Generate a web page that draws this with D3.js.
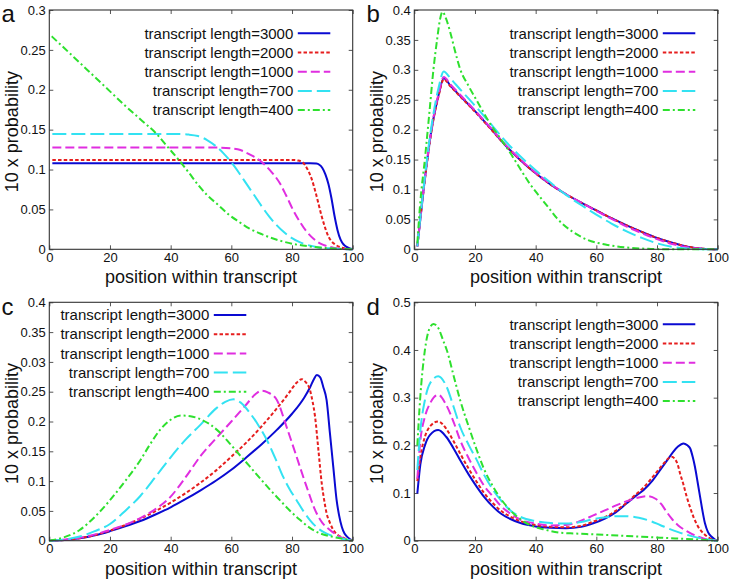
<!DOCTYPE html>
<html><head><meta charset="utf-8">
<script src="https://cdn.jsdelivr.net/npm/d3@7/dist/d3.min.js"></script>
<style>
body{margin:0;background:#fff}
svg{display:block}
text{font-family:"Liberation Sans",Arial,Helvetica,sans-serif;fill:#111}
</style>
</head><body>
<svg id="chart" width="730" height="581"></svg>
<script>
// ---------- data ----------
const panelIds = ["a", "b", "c", "d"];
const lengths = ["3000", "2000", "1000", "700", "400"];
const xTicks = [0, 20, 40, 60, 80, 100];
const yTicksA = [0, 0.05, 0.1, 0.15, 0.2, 0.25, 0.3];
const yLabelsA = ["0", "0.05", "0.1", "0.15", "0.2", "0.25", "0.3"];
const yTicksB = [0, 0.05, 0.1, 0.15, 0.2, 0.25, 0.3, 0.35, 0.4];
const yLabelsB = ["0", "0.05", "0.1", "0.15", "0.2", "0.25", "0.3", "0.35", "0.4"];
const yTicksC = [0, 0.05, 0.1, 0.15, 0.2, 0.25, 0.3, 0.35, 0.4];
const yLabelsC = ["0", "0.05", "0.1", "0.15", "0.2", "0.25", "0.03", "0.35", "0.4"];
const yTicksD = [0, 0.1, 0.2, 0.3, 0.4, 0.5];
const yLabelsD = ["0", "0.1", "0.2", "0.3", "0.4", "0.5"];
const xTitle = "position within transcript";
const yTitle = "10 x probability";

// panel a
const A3000 = [[1,0.108],[20,0.108],[40,0.108],[60,0.108],[80,0.108],[86,0.108],[88,0.1075],[89,0.106],[90,0.102],[91,0.094],[92,0.082],[93,0.064],[94,0.042],[95,0.024],[96,0.012],[97,0.006],[98,0.003],[99,0.001],[100,0]];
const A2000 = [[1,0.112],[20,0.112],[40,0.112],[60,0.112],[80,0.112],[82,0.1113],[83.5,0.109],[85,0.101],[86.5,0.088],[88,0.068],[89.8,0.041],[91,0.026],[92,0.016],[93,0.01],[94.2,0.006],[96,0.0025],[98,0.0008],[100,0]];
const A1000 = [[1,0.1275],[20,0.1275],[40,0.1275],[55,0.1275],[60,0.1265],[63,0.1245],[65,0.121],[67,0.117],[69,0.1125],[71,0.106],[73,0.098],[76,0.0827],[78,0.068],[80.4,0.049],[82.5,0.035],[84.8,0.0222],[87,0.0135],[89.2,0.0075],[91.5,0.004],[93.6,0.002],[97,0.0005],[100,0]];
const A700 = [[1,0.1445],[20,0.1445],[42,0.1445],[46,0.1438],[49,0.142],[52,0.137],[55,0.129],[57.5,0.12],[60,0.109],[62.5,0.096],[65,0.082],[67.5,0.068],[70,0.054],[72.5,0.041],[75,0.03],[77.5,0.021],[80,0.014],[82.5,0.009],[85,0.0055],[88,0.003],[92,0.0012],[96,0.0003],[100,0]];
const A400 = [[0.8,0.267],[5,0.252],[10,0.234],[15,0.216],[20,0.198],[25,0.18],[30,0.163],[35.4,0.1445],[39.2,0.1275],[43.1,0.11],[46,0.096],[49,0.081],[52,0.068],[55.7,0.0555],[59,0.044],[62.3,0.035],[66,0.026],[70,0.019],[75,0.012],[80,0.007],[85,0.004],[90,0.002],[95,0.0007],[100,0]];

// panel b
const B3000 = [[1,0.005],[3,0.097],[6,0.21],[8,0.258],[9.7,0.286],[12,0.273],[15,0.257],[20,0.231],[25,0.203],[30,0.174],[35,0.149],[40,0.127],[45,0.108],[50,0.092],[55,0.078],[60,0.065],[65,0.052],[70,0.04],[75,0.029],[80,0.019],[85,0.011],[90,0.0045],[95,0.001],[100,0]];
const B2000 = [[1,0.005],[3,0.096],[6,0.208],[8,0.256],[9.7,0.284],[12,0.272],[15,0.256],[20,0.23],[25,0.202],[30,0.174],[35,0.149],[40,0.127],[45,0.108],[50,0.092],[55,0.078],[60,0.065],[65,0.052],[70,0.04],[75,0.029],[80,0.019],[85,0.011],[90,0.0045],[95,0.001],[100,0]];
const B1000 = [[1,0.005],[3,0.098],[6,0.212],[8,0.26],[9.7,0.288],[12,0.275],[15,0.259],[20,0.232],[25,0.204],[30,0.175],[35,0.15],[40,0.128],[45,0.109],[50,0.092],[55,0.078],[60,0.064],[65,0.051],[70,0.038],[75,0.027],[80,0.017],[85,0.009],[90,0.0035],[95,0.0008],[100,0]];
const B700 = [[1,0.005],[3,0.1],[6,0.217],[8,0.27],[9.7,0.297],[12,0.285],[15,0.268],[20,0.24],[25,0.211],[30,0.181],[35,0.155],[40,0.132],[45,0.111],[50,0.091],[55,0.074],[60,0.058],[65,0.043],[70,0.03],[75,0.019],[80,0.01],[85,0.004],[90,0.0012],[95,0.0002],[100,0]];
const B400 = [[1,0.01],[2,0.08],[3.5,0.151],[5,0.23],[6.3,0.3],[7.5,0.35],[8.5,0.385],[9.3,0.397],[10.5,0.385],[12,0.36],[13.5,0.33],[15,0.303],[18,0.272],[21,0.245],[25,0.21],[28,0.188],[31,0.166],[34,0.142],[38,0.11],[41.5,0.087],[44.5,0.068],[47,0.052],[52,0.03],[57,0.016],[63,0.008],[70,0.003],[78,0.0007],[85,0],[100,0]];

// panel c
const C3000 = [[0,0],[5,0.001],[10,0.004],[15,0.009],[20,0.016],[25,0.024],[30,0.033],[35,0.044],[40,0.056],[45,0.07],[50,0.085],[55,0.101],[60,0.119],[65,0.14],[70,0.162],[75,0.186],[80,0.213],[84,0.24],[86,0.258],[87.2,0.271],[88.2,0.278],[89.3,0.274],[90.3,0.258],[91.4,0.236],[92.5,0.18],[93.6,0.124],[94.7,0.068],[95.5,0.043],[96.4,0.0235],[97.3,0.012],[98.3,0.006],[100,0]];
const C2000 = [[0,0],[10,0.004],[20,0.017],[30,0.037],[40,0.064],[50,0.098],[55,0.118],[60,0.141],[65,0.165],[70,0.192],[75,0.222],[79,0.248],[81.5,0.265],[83.2,0.271],[84.5,0.266],[85.9,0.253],[86.8,0.233],[87.6,0.208],[88.7,0.152],[89.8,0.096],[90.6,0.068],[91.4,0.046],[92.5,0.03],[93.6,0.018],[95,0.01],[96.9,0.005],[98.5,0.0015],[100,0]];
const C1000 = [[0,0],[10,0.005],[20,0.018],[30,0.038],[35,0.053],[40,0.074],[45,0.107],[50,0.143],[55,0.172],[60,0.2],[65,0.229],[68,0.246],[70,0.2517],[72,0.249],[75,0.236],[78.2,0.191],[81.5,0.141],[84.8,0.0906],[88.1,0.046],[90,0.03],[92.5,0.018],[95,0.009],[97,0.004],[100,0]];
const C700 = [[0,0],[5,0.002],[10,0.007],[15,0.016],[20,0.028],[25,0.05],[30,0.075],[35,0.107],[40,0.14],[45,0.17],[49.7,0.194],[55,0.222],[58,0.233],[60.7,0.2372],[63,0.232],[66.2,0.2137],[69,0.193],[71.7,0.169],[74.5,0.138],[77.1,0.107],[79.5,0.084],[81.5,0.068],[83.7,0.05],[85.9,0.0347],[88.5,0.021],[91.4,0.012],[94,0.007],[96.9,0.003],[100,0]];
const C400 = [[0,0],[5,0.006],[10,0.018],[15,0.04],[20,0.068],[25,0.1],[30,0.135],[33,0.16],[36.5,0.186],[40,0.203],[43.6,0.21],[46.5,0.209],[49.7,0.204],[53,0.195],[56.3,0.181],[59.5,0.163],[62.9,0.143],[66,0.125],[69.4,0.105],[72.5,0.087],[76,0.068],[79,0.052],[82.6,0.035],[86,0.021],[89.2,0.0124],[93,0.007],[96.9,0.003],[100,0]];

// panel d
const D3000 = [[1,0.099],[2,0.16],[3.5,0.2],[5.2,0.222],[7.9,0.232],[10.5,0.218],[13,0.193],[15.1,0.169],[18,0.138],[20.6,0.113],[23,0.092],[26,0.071],[28.5,0.057],[31.5,0.046],[35,0.037],[40,0.03],[45,0.027],[50,0.026],[55,0.029],[59,0.0365],[63,0.047],[66.5,0.06],[70,0.0784],[73,0.094],[75.5,0.106],[78.5,0.126],[81,0.148],[83.5,0.17],[85.4,0.187],[87,0.198],[88.7,0.204],[90,0.2],[90.9,0.194],[91.8,0.175],[92.5,0.155],[93.4,0.122],[94.2,0.092],[95,0.062],[95.8,0.0365],[96.8,0.018],[98,0.0084],[99,0.003],[100,0]];
const D2000 = [[1,0.125],[2,0.176],[3.5,0.218],[5.2,0.24],[7.9,0.25],[10.5,0.235],[13,0.208],[15.1,0.183],[18,0.15],[20.6,0.123],[23,0.1],[26,0.078],[28.5,0.063],[31.5,0.051],[35,0.041],[40,0.033],[45,0.029],[50,0.028],[55,0.031],[59,0.04],[63,0.05],[66.5,0.063],[70,0.08],[73,0.097],[75.5,0.111],[77.7,0.127],[80,0.145],[82.5,0.164],[84,0.174],[84.8,0.176],[85.8,0.172],[86.8,0.16],[87.6,0.141],[88.7,0.118],[89.8,0.092],[91,0.068],[92,0.05],[93.5,0.03],[95.3,0.0154],[97.4,0.005],[100,0]];
const D1000 = [[1,0.13],[1.9,0.204],[3.5,0.26],[5.2,0.288],[7.9,0.306],[10.5,0.285],[13,0.248],[15.1,0.211],[18,0.172],[20.6,0.141],[23,0.115],[26,0.092],[28.5,0.073],[31.5,0.0575],[35,0.044],[40,0.036],[45,0.032],[50,0.033],[55,0.042],[59,0.053],[63,0.064],[66.5,0.074],[70,0.083],[73.5,0.09],[76.6,0.0935],[79.5,0.088],[81.5,0.076],[83.2,0.06],[85,0.045],[87,0.032],[89.8,0.02],[92.5,0.011],[95.3,0.0049],[100,0]];
const D700 = [[1,0.148],[1.9,0.225],[3.5,0.295],[5.2,0.33],[7.9,0.345],[10.5,0.325],[13,0.28],[15.1,0.239],[18,0.2],[20.6,0.169],[23,0.138],[26,0.106],[28.5,0.085],[31.5,0.0645],[35,0.05],[40,0.041],[45,0.037],[50,0.036],[55,0.039],[59,0.045],[63,0.049],[66.5,0.0515],[70,0.0515],[74,0.048],[77.5,0.042],[81,0.033],[84,0.025],[87,0.018],[89.8,0.0125],[93,0.007],[97.4,0.002],[100,0]];
const D400 = [[1,0.2],[1.9,0.295],[3.5,0.4],[5,0.445],[6.3,0.4545],[8,0.445],[9.5,0.42],[10.7,0.4],[13,0.345],[15.1,0.295],[18,0.238],[20.6,0.19],[23,0.15],[26,0.113],[28.5,0.088],[31.5,0.0645],[35,0.045],[38,0.033],[42.5,0.024],[48,0.0168],[53,0.015],[59,0.0133],[65,0.0115],[70,0.0098],[75,0.0083],[81,0.0063],[86,0.0047],[92,0.003],[96,0.0013],[100,0]];

// ---------- styles / layout ----------
const colors = ["#0a0ad2", "#e61e1e", "#e02ee0", "#33e2f2", "#2ee02e"];
const dashes = [null, "3.5,2.2", "9,4", "14,5", "7,3,2,3"];

const panels = [
  {id: panelIds[0], series: [A3000, A2000, A1000, A700, A400], yMax: 0.3, yT: yTicksA, yL: yLabelsA,
   col: 0, left: 49.3, right: 352.7, top: 10, bottom: 249.3, legX: 244, legY: 23.3, letterY: 22},
  {id: panelIds[1], series: [B3000, B2000, B1000, B700, B400], yMax: 0.4, yT: yTicksB, yL: yLabelsB,
   col: 365, left: 414.3, right: 717.7, top: 10, bottom: 249.3, legX: 244, legY: 23.3, letterY: 22},
  {id: panelIds[2], series: [C3000, C2000, C1000, C700, C400], yMax: 0.4, yT: yTicksC, yL: yLabelsC,
   col: 0, left: 49.3, right: 352.7, top: 302.3, bottom: 540.7, legX: 160, legY: 12.7, letterY: 315},
  {id: panelIds[3], series: [D3000, D2000, D1000, D700, D400], yMax: 0.5, yT: yTicksD, yL: yLabelsD,
   col: 365, left: 414.3, right: 717.7, top: 302.3, bottom: 540.7, legX: 244, legY: 22, letterY: 315}
];

const svg = d3.select("#chart");

panels.forEach(p => {
  const w = p.right - p.left, h = p.bottom - p.top;
  const g = svg.append("g").attr("transform", `translate(${p.left},${p.top})`);
  const x = d3.scaleLinear().domain([0, 100]).range([0, w]);
  const y = d3.scaleLinear().domain([0, p.yMax]).range([h, 0]);

  const styleAxis = sel => {
    sel.select(".domain").remove();
    sel.selectAll(".tick line").attr("stroke", "#555").attr("stroke-width", 1);
    sel.selectAll("text").style("font-size", "13px").attr("fill", "#111");
  };

  // axes with inward ticks on all four sides
  g.append("g").call(d3.axisLeft(y).tickValues(p.yT).tickFormat((d, i) => p.yL[i]).tickSize(-4).tickPadding(3.5)).call(styleAxis);
  g.append("g").attr("transform", `translate(${w},0)`).call(d3.axisRight(y).tickValues(p.yT).tickFormat("").tickSize(-4)).call(styleAxis);
  g.append("g").attr("transform", `translate(0,${h})`).call(d3.axisBottom(x).tickValues(xTicks).tickFormat(d3.format("d")).tickSize(-4).tickPadding(3.5)).call(styleAxis);
  g.append("g").call(d3.axisTop(x).tickValues(xTicks).tickFormat("").tickSize(-4)).call(styleAxis);

  const line = d3.line().x(d => x(d[0])).y(d => y(d[1])).curve(d3.curveMonotoneX);

  p.series.forEach((s, i) => {
    g.append("path").datum(s)
      .attr("d", line)
      .attr("fill", "none")
      .attr("stroke", colors[i])
      .attr("stroke-width", 2)
      .attr("stroke-dasharray", dashes[i])
      .attr("stroke-linejoin", "round");
  });

  // frame
  g.append("rect").attr("width", w).attr("height", h)
    .attr("fill", "none").attr("stroke", "#333").attr("stroke-width", 1.1);

  // legend
  lengths.forEach((L, i) => {
    const ly = p.legY + i * 19.2;
    g.append("text").attr("x", p.legX).attr("y", ly).attr("dy", "0.35em")
      .attr("text-anchor", "end").style("font-size", "15px")
      .text("transcript length=" + L);
    g.append("line").attr("x1", p.legX + 4.5).attr("x2", p.legX + 37).attr("y1", ly).attr("y2", ly)
      .attr("stroke", colors[i]).attr("stroke-width", 2).attr("stroke-dasharray", dashes[i]);
  });

  // axis titles
  g.append("text").attr("x", w / 2).attr("y", h + 34).attr("text-anchor", "middle")
    .style("font-size", "18px").text(xTitle);
  svg.append("text").attr("transform", `translate(${p.col + 18},${p.top + h / 2 + 2}) rotate(-90)`)
    .attr("text-anchor", "middle").style("font-size", "18px").text(yTitle);

  // panel letter
  svg.append("text").attr("x", p.col + 1.5).attr("y", p.letterY)
    .style("font-size", "24px").text(p.id);
});
</script>
</body></html>
